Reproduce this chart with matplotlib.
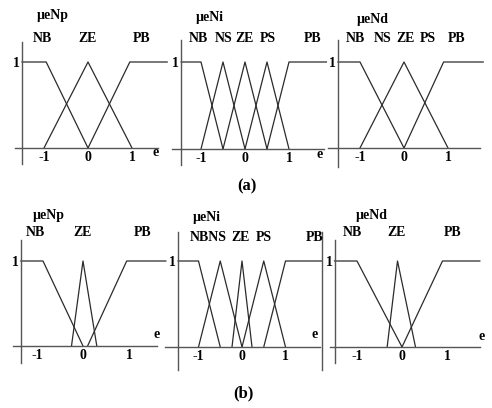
import matplotlib.pyplot as plt

# membership functions: breakpoints on e, with the matching membership values
tri = [0, 1, 0]
left_sh = [1, 1, 0]
right_sh = [0, 1, 1]

# (a) wide sets
np_a = {"NB": [-1.5, -0.95, 0], "ZE": [-1, 0, 1], "PB": [0, 0.95, 1.8]}
ni_a = {"NB": [-1.45, -1, -0.5], "NS": [-1, -0.5, 0], "ZE": [-0.5, 0, 0.5],
        "PS": [0, 0.5, 1], "PB": [0.5, 1, 1.85]}
nd_a = {"NB": [-1.5, -1, 0], "ZE": [-1, 0, 1], "PB": [0, 0.9, 1.8]}

# (b) narrowed ZE sets
np_b = {"NB": [-1.35, -0.87, 0], "ZE": [-0.25, 0, 0.3], "PB": [0.1, 0.95, 1.8]}
ni_b = {"NB": [-1.47, -1, -0.5], "NS": [-1, -0.5, 0], "ZE": [-0.23, 0, 0.23],
        "PS": [0, 0.5, 1], "PB": [0.5, 1, 1.84]}
nd_b = {"NB": [-1.5, -1, 0], "ZE": [-0.33, -0.1, 0.3], "PB": [0, 0.9, 1.73]}

shapes = {"NB": left_sh, "NS": tri, "ZE": tri, "PS": tri, "PB": right_sh}
e_ticks = [-1, 0, 1]
e_labels = ["-1", "0", "1"]

W, H = 492, 408
fig = plt.figure(figsize=(W / 100, H / 100), dpi=100)
font = dict(family="Liberation Serif", weight="bold")
line_col = "#2b2b2b"
axis_col = "#555555"
fs = 10


def px_text(x, y, s, size=fs, **kw):
    fig.text(x / W, 1 - y / H, s, ha="center", va="center", fontsize=size, **font, **kw)


def panel(sets, x0, u, ybase, ytop, yaxis_e, yspan, xspan, right_e=None):
    # axes box in pixels, data mapped so that e=0 sits at x0 and unit = u px
    L, R, T, B = x0 - 2.2 * u, x0 + 2.2 * u, ytop - 40, ybase + 40
    ax = fig.add_axes([L / W, 1 - B / H, (R - L) / W, (B - T) / H])
    h = ybase - ytop
    ax.set_xlim((L - x0) / u, (R - x0) / u)
    ax.set_ylim((ybase - B) / h, (ybase - T) / h)
    ax.patch.set_alpha(0)
    for name, xs in sets.items():
        ax.plot(xs, shapes[name], color=line_col, lw=0.9, clip_on=False)
    ax.spines["top"].set_visible(False)
    if right_e is None:
        ax.spines["right"].set_visible(False)
    else:
        ax.spines["right"].set_position(("data", right_e))
        ax.spines["right"].set_bounds((ybase - yspan[1]) / h, (ybase - yspan[0]) / h)
    ax.spines["left"].set_position(("data", yaxis_e))
    ax.spines["left"].set_bounds((ybase - yspan[1]) / h, (ybase - yspan[0]) / h)
    ax.spines["bottom"].set_position(("data", 0))
    ax.spines["bottom"].set_bounds((xspan[0] - x0) / u, (xspan[1] - x0) / u)
    for s in ax.spines.values():
        s.set_color(axis_col)
        s.set_linewidth(1.0)
    ax.set_xticks(e_ticks, e_labels)
    ax.set_yticks([1], ["1"])
    ax.tick_params(length=0, labelsize=fs, pad=2.5)
    ax.tick_params(axis="y", pad=1.5)
    for t in ax.get_xticklabels() + ax.get_yticklabels():
        t.set_fontfamily("Liberation Serif")
        t.set_fontweight("bold")
    return ax


# top row (a)
panel(np_a, 88, 44, 148, 62, -1.5, (42, 164), (15, 158))
panel(ni_a, 245, 44, 149, 62, -1.45, (40, 165), (172, 324))
panel(nd_a, 404, 44, 148, 62, -1.5, (40, 167), (328, 480))

# bottom row (b)
panel(np_b, 83, 46, 346, 261, -1.35, (240, 363), (13, 157))
panel(ni_b, 242, 43.5, 347, 261, -1.47, (232, 370), (165, 320), right_e=1.84)
panel(nd_b, 402, 45, 347, 261, -1.5, (240, 363), (330, 480))

# titles and set names
px_text(53, 16, "µeNp")
px_text(210, 18, "µeNi")
px_text(373, 20, "µeNd")
for s, x in zip(["NB", "ZE", "PB"], [42, 88, 142]):
    px_text(x, 38, s)
for s, x in zip(["NB", "NS", "ZE", "PS", "PB"], [198, 224, 245, 268, 313]):
    px_text(x, 38, s)
for s, x in zip(["NB", "NS", "ZE", "PS", "PB"], [355, 383, 406, 428, 457]):
    px_text(x, 38, s)

px_text(49, 215, "µeNp")
px_text(207, 218, "µeNi")
px_text(372, 215, "µeNd")
for s, x in zip(["NB", "ZE", "PB"], [35, 83, 143]):
    px_text(x, 232, s)
for s, x in zip(["NBNS", "ZE", "PS", "PB"], [208, 241, 264, 315]):
    px_text(x, 237, s)
for s, x in zip(["NB", "ZE", "PB"], [352, 397, 453]):
    px_text(x, 233, s)

# axis name e
for x, y in [(156, 153), (320, 155), (157, 335), (315, 335), (482, 337)]:
    px_text(x, y, "e")

px_text(247, 186, "(a)", size=12)
px_text(243, 393, "(b)", size=12)

fig.savefig("out.png", dpi=100)
